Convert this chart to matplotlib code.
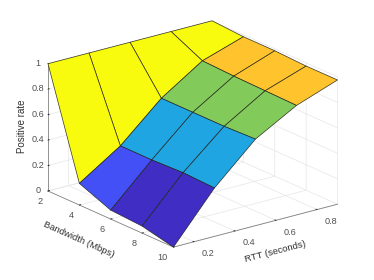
import numpy as np
import matplotlib
matplotlib.use("Agg")
import matplotlib.pyplot as plt
from matplotlib.text import Text
from mpl_toolkits.mplot3d import proj3d

plt.rcParams['font.family'] = ['Liberation Sans', 'DejaVu Sans']

bandwidth = [2, 4, 6, 8, 10]
rtt = [0.1, 0.3, 0.5, 0.7, 0.9]
# rows: bandwidth, columns: rtt
positive_rate = [
    [1.00, 1.00, 1.00, 1.00, 1.00],
    [0.17, 0.38, 0.67, 0.88, 0.985],
    [0.07, 0.38, 0.67, 0.87, 0.985],
    [0.055, 0.39, 0.67, 0.865, 0.975],
    [0.00, 0.38, 0.68, 0.86, 0.976],
]
Y_ = '#f9fb0e'; O_ = '#fec32d'; G_ = '#82ca5a'; B_ = '#1ea5e2'; L_ = '#4350f5'; D_ = '#402dc3'
cell_colors = [
    [Y_, Y_, Y_, Y_],
    [L_, B_, G_, O_],
    [D_, B_, G_, O_],
    [D_, B_, G_, O_],
]
x_ticks = [2, 4, 6, 8, 10]
y_ticks = [0.2, 0.4, 0.6, 0.8]
z_ticks = [0, 0.2, 0.4, 0.6, 0.8, 1]
z_labels = ['0', '0.2', '0.4', '0.6', '0.8', '1']

W, H = 374, 280
fig = plt.figure(figsize=(W/100, H/100), dpi=100)
ax = fig.add_axes([0.1, 0.1, 0.7, 0.7*W/H], projection='3d', proj_type='ortho')
ax.view_init(elev=20, azim=-37.4)
ax.set_box_aspect((1, 1, 0.656))

X, Yg = np.meshgrid(bandwidth, rtt, indexing='ij')
Z = np.array(positive_rate)
fc = np.array([[matplotlib.colors.to_rgba(c) for c in row] for row in cell_colors])
ax.plot_surface(X, Yg, Z, facecolors=fc, shade=False, rstride=1, cstride=1,
                edgecolor=(0.13, 0.13, 0.1, 0.9), linewidth=0.5, antialiased=True)

ax.set_xlim(2, 10, view_margin=0); ax.set_ylim(0.1, 0.9, view_margin=0); ax.set_zlim(0, 1, view_margin=0)
ax.set_xticks(x_ticks); ax.set_yticks(y_ticks); ax.set_zticks(z_ticks)
ax.set_zticklabels(z_labels)
FS = 6.6
for a in (ax.xaxis, ax.yaxis, ax.zaxis):
    a.set_pane_color((1, 1, 1, 0))
    a.pane.set_edgecolor('none')
    a.line.set_color('#808080'); a.line.set_linewidth(0.6)
    a._axinfo['grid'].update(color='#e6e6e6', linewidth=0.5)
    a._axinfo['tick'].update(inward_factor=0.0, outward_factor=0.1, linewidth={True: 0.5, False: 0.5}, color='#707070')
ax.tick_params(axis='x', labelsize=FS, labelcolor='#505050', pad=-4)
ax.tick_params(axis='y', labelsize=FS, labelcolor='#505050', pad=-0.5)
ax.tick_params(axis='z', labelsize=FS, labelcolor='#505050', pad=-4)
ax.zaxis.set_ticks_position('lower')
ax.zaxis.set_label_position('lower')
ax.set_xlabel('Bandwidth (Mbps)', fontsize=6.8, color='#303030', labelpad=-7)
ax.set_ylabel('RTT (seconds)', fontsize=6.8, color='#303030', labelpad=-7)
ax.set_zlabel('Positive rate', fontsize=7.0, color='#303030', labelpad=-10)

# fit the axes box so the data box lands on the reference's corners
def px(x, y, z):
    xs, ys, _ = proj3d.proj_transform(x, y, z, ax.get_proj())
    return ax.transData.transform((xs, ys))
fig.canvas.draw()
p0 = px(2, 0.1, 0); p1 = px(10, 0.9, 0)
s = (337.5 - 48) / (p1[0] - p0[0])
pos = ax.get_position()
ax.set_position([pos.x0, pos.y0, pos.width*s, pos.height*s])
fig.canvas.draw()
p0 = px(2, 0.1, 0)
pos = ax.get_position()
ax.set_position([pos.x0 + (48 - p0[0])/W, pos.y0 + ((H-191) - p0[1])/H, pos.width, pos.height])
fig.canvas.draw()

# nudge axis titles by a few pixels from where the 3D axis puts them
def nudge(label, dx_px, dy_px):
    o = ax.transData.transform((0, 0))
    u = ax.transData.transform((1, 1)) - o
    dx, dy = dx_px/u[0], dy_px/u[1]
    label.set_position = lambda xy: Text.set_position(label, (xy[0]+dx, xy[1]+dy))
nudge(ax.xaxis.label, -12, 0)
nudge(ax.yaxis.label, 5, -4)
nudge(ax.zaxis.label, 1, 0)

plt.setp(ax.get_zticklabels(), va='center')
plt.setp(ax.get_xticklabels(), ha='right')
plt.setp(ax.get_yticklabels(), ha='left', va='center')

fig.savefig('out.png', dpi=100)
